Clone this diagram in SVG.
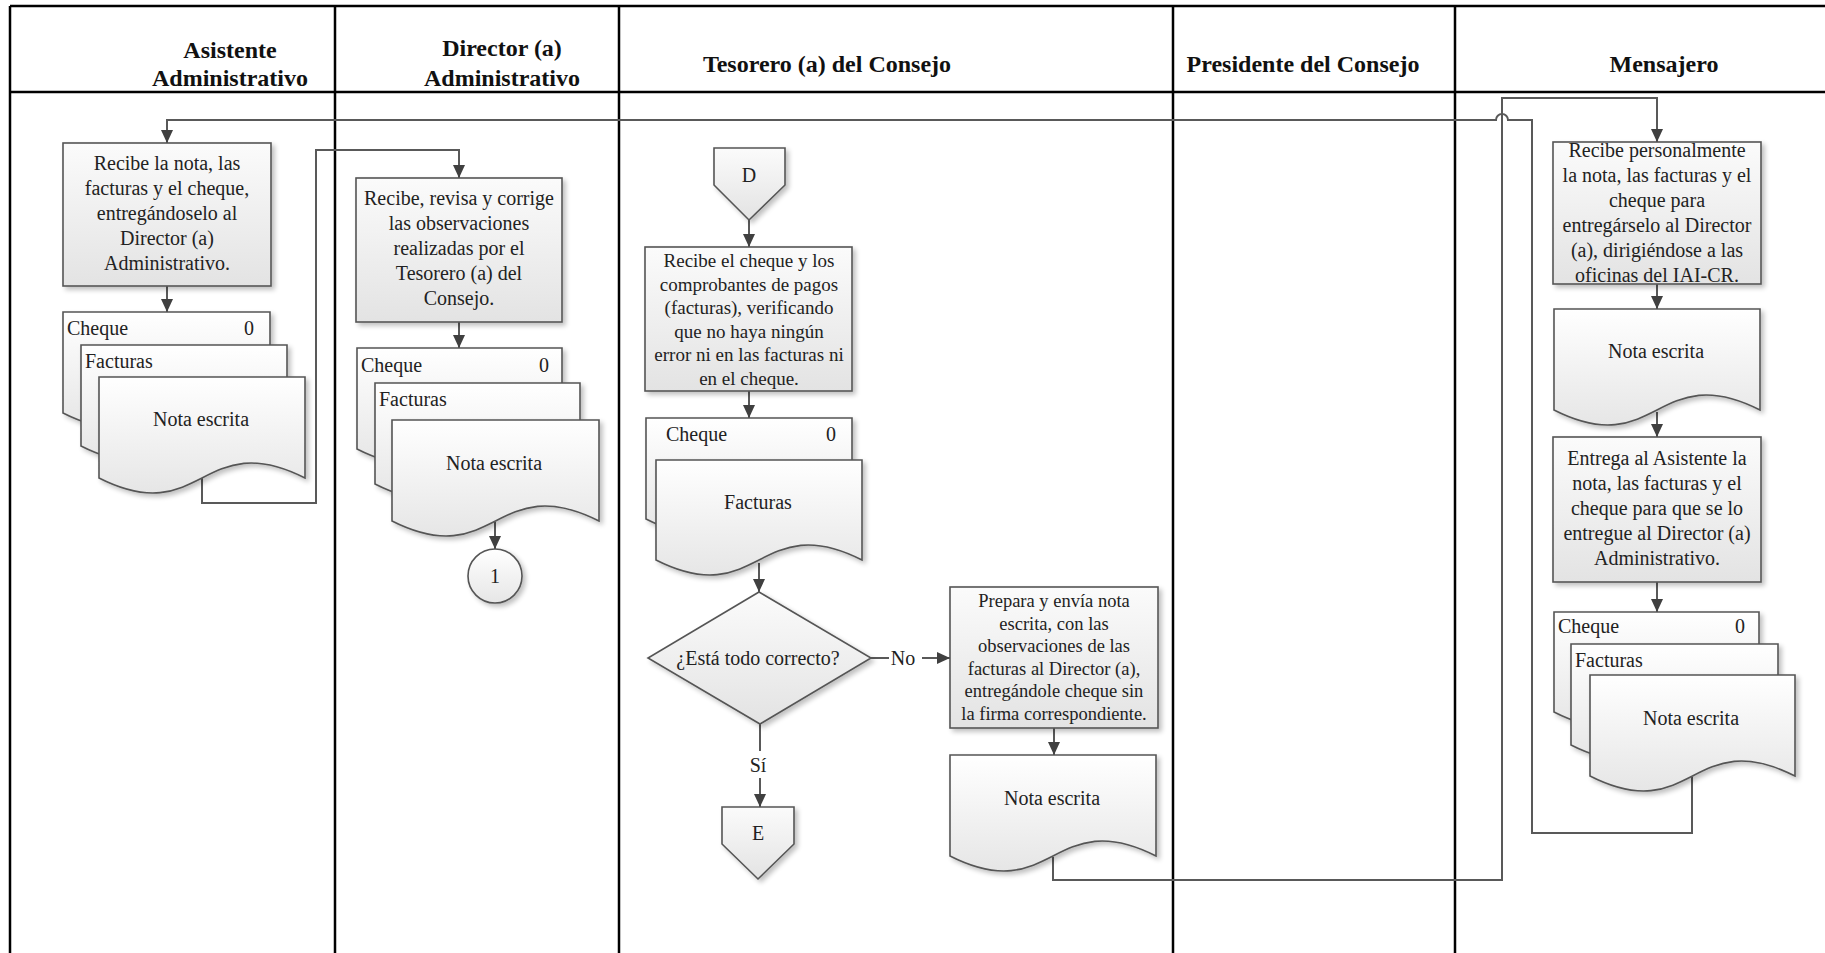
<svg xmlns="http://www.w3.org/2000/svg" width="1825" height="953" viewBox="0 0 1825 953">
  <defs>
    <style>
      .lane { stroke: #000; stroke-width: 2.5; fill: none; }
      .box { fill: url(#gBox); stroke: #555; stroke-width: 1.6; filter: url(#shadow); }
      .doc { fill: url(#gDoc); stroke: #555; stroke-width: 1.6; filter: url(#shadow); }
      .conn { fill: none; stroke: #595959; stroke-width: 2; }
      .arrow { marker-end: url(#arrowHead); }
      text { font-family: "Liberation Serif", "Times New Roman", serif; fill: #222; }
      .t { font-size: 20px; text-anchor: middle; }
      .ts { font-size: 19px; text-anchor: middle; }
      .tx { font-size: 18.5px; text-anchor: middle; }
      .tl { font-size: 20px; text-anchor: start; }
      .h { font-size: 24px; font-weight: bold; text-anchor: middle; fill: #111; }
    </style>
    <linearGradient id="gBox" x1="0" y1="0" x2="0" y2="1">
      <stop offset="0" stop-color="#fbfbfb"/>
      <stop offset="1" stop-color="#e3e3e3"/>
    </linearGradient>
    <linearGradient id="gDoc" x1="0" y1="0" x2="0" y2="1">
      <stop offset="0" stop-color="#ffffff"/>
      <stop offset="1" stop-color="#e6e6e6"/>
    </linearGradient>
    <filter id="shadow" x="-10%" y="-10%" width="125%" height="125%">
      <feGaussianBlur in="SourceAlpha" stdDeviation="2.5"/>
      <feOffset dx="3" dy="3" result="b"/>
      <feComponentTransfer><feFuncA type="linear" slope="0.25"/></feComponentTransfer>
      <feMerge><feMergeNode/><feMergeNode in="SourceGraphic"/></feMerge>
    </filter>
    <marker id="arrowHead" markerUnits="userSpaceOnUse" markerWidth="13" markerHeight="12" refX="13" refY="6" orient="auto">
      <path d="M0,0 L13,6 L0,12 z" fill="#404040"/>
    </marker>
  </defs>

  <rect width="1825" height="953" fill="#fff"/>

  <!-- swimlane frame -->
  <g id="lanes">
    <line class="lane" x1="10" y1="6" x2="1825" y2="6"/>
    <line class="lane" x1="10" y1="92" x2="1825" y2="92"/>
    <line class="lane" x1="10" y1="6" x2="10" y2="953"/>
    <line class="lane" x1="335" y1="6" x2="335" y2="953"/>
    <line class="lane" x1="619" y1="6" x2="619" y2="953"/>
    <line class="lane" x1="1173" y1="6" x2="1173" y2="953"/>
    <line class="lane" x1="1455" y1="6" x2="1455" y2="953"/>
    <text class="h" x="230" y="58">Asistente</text>
    <text class="h" x="230" y="86">Administrativo</text>
    <text class="h" x="502" y="56">Director (a)</text>
    <text class="h" x="502" y="86">Administrativo</text>
    <text class="h" x="827" y="72">Tesorero (a) del Consejo</text>
    <text class="h" x="1303" y="72">Presidente del Consejo</text>
    <text class="h" x="1664" y="72">Mensajero</text>
  </g>

  <!-- connectors -->
  <g id="connectors">
    <path class="conn arrow" d="M167,286 V312"/>
    <path class="conn arrow" d="M202,478 V503 H316 V150 H459 V178"/>
    <path class="conn arrow" d="M459,322 V348"/>
    <path class="conn arrow" d="M495,522 V549"/>
    <path class="conn arrow" d="M749,220 V247"/>
    <path class="conn arrow" d="M749,391 V418"/>
    <path class="conn arrow" d="M759,563 V592"/>
    <path class="conn" d="M871,658 H889"/>
    <path class="conn arrow" d="M922,658 H950"/>
    <path class="conn" d="M760,724 V751"/>
    <path class="conn arrow" d="M760,778 V807"/>
    <path class="conn arrow" d="M1054,728 V755"/>
    <path class="conn arrow" d="M1053,857 V880 H1502 V98 H1657 V142"/>
    <path class="conn arrow" d="M1657,284 V309"/>
    <path class="conn arrow" d="M1657,412 V437"/>
    <path class="conn arrow" d="M1657,582 V612"/>
    <path class="conn arrow" d="M1692,777 V833 H1532 V120 H1508 A6,6 0 0 0 1496,120 H167 V143"/>
    <text class="t" x="903" y="665">No</text>
    <text class="t" x="758" y="772">Sí</text>
  </g>

  <!-- Asistente Administrativo -->
  <g id="asistente-recibe">
    <rect class="box" x="63" y="143" width="208" height="143"/>
    <text class="t" x="167" y="170">Recibe la nota, las</text>
    <text class="t" x="167" y="195">facturas y el cheque,</text>
    <text class="t" x="167" y="220">entregándoselo al</text>
    <text class="t" x="167" y="245">Director (a)</text>
    <text class="t" x="167" y="270">Administrativo.</text>
  </g>
  <g id="asistente-documentos">
    <path class="doc" d="M63,312 H270 V413 C166.5,361 166.5,465 63,413 Z"/>
    <text class="tl" x="67" y="335">Cheque</text>
    <text class="t" x="249" y="335">0</text>
    <path class="doc" d="M81,345 H287 V446 C184,394 184,498 81,446 Z"/>
    <text class="tl" x="85" y="368">Facturas</text>
    <path class="doc" d="M99,377 H305 V478 C202,426 202,530 99,478 Z"/>
    <text class="t" x="201" y="426">Nota escrita</text>
  </g>

  <!-- Director (a) Administrativo -->
  <g id="director-revisa">
    <rect class="box" x="356" y="178" width="206" height="144"/>
    <text class="t" x="459" y="205">Recibe, revisa y corrige</text>
    <text class="t" x="459" y="230">las observaciones</text>
    <text class="t" x="459" y="255">realizadas por el</text>
    <text class="t" x="459" y="280">Tesorero (a) del</text>
    <text class="t" x="459" y="305">Consejo.</text>
  </g>
  <g id="director-documentos">
    <path class="doc" d="M357,348 H562 V449 C459.5,397 459.5,501 357,449 Z"/>
    <text class="tl" x="361" y="372">Cheque</text>
    <text class="t" x="544" y="372">0</text>
    <path class="doc" d="M375,383 H580 V484 C477.5,432 477.5,536 375,484 Z"/>
    <text class="tl" x="379" y="406">Facturas</text>
    <path class="doc" d="M392,420 H599 V521 C495.5,469 495.5,573 392,521 Z"/>
    <text class="t" x="494" y="470">Nota escrita</text>
  </g>
  <g id="conector-1">
    <circle cx="495" cy="576" r="27" fill="url(#gDoc)" stroke="#555" stroke-width="1.6" filter="url(#shadow)"/>
    <text class="t" x="495" y="583">1</text>
  </g>

  <!-- Tesorero (a) del Consejo -->
  <g id="conector-D">
    <path class="box" d="M714,148 H785 V185 L749,220 L714,185 Z"/>
    <text class="t" x="749" y="182">D</text>
  </g>
  <g id="tesorero-verifica">
    <rect class="box" x="645" y="247" width="207" height="144"/>
    <text class="ts" x="749" y="267">Recibe el cheque y los</text>
    <text class="ts" x="749" y="290.5">comprobantes de pagos</text>
    <text class="ts" x="749" y="314">(facturas), verificando</text>
    <text class="ts" x="749" y="337.5">que no haya ningún</text>
    <text class="ts" x="749" y="361">error ni en las facturas ni</text>
    <text class="ts" x="749" y="384.5">en el cheque.</text>
  </g>
  <g id="tesorero-documentos">
    <path class="doc" d="M646,418 H852 V519 C749,467 749,571 646,519 Z"/>
    <text class="tl" x="666" y="441">Cheque</text>
    <text class="t" x="831" y="441">0</text>
    <path class="doc" d="M656,460 H862 V560 C759,508 759,612 656,560 Z"/>
    <text class="t" x="758" y="509">Facturas</text>
  </g>
  <g id="decision-correcto">
    <path class="box" d="M759,592 L871,658 L760,724 L648,658 Z"/>
    <text class="t" x="758" y="665">¿Está todo correcto?</text>
  </g>
  <g id="conector-E">
    <path class="box" d="M722,807 H794 V844 L758,879 L722,844 Z"/>
    <text class="t" x="758" y="840">E</text>
  </g>
  <g id="tesorero-prepara">
    <rect class="box" x="950" y="587" width="208" height="141"/>
    <text class="tx" x="1054" y="607">Prepara y envía nota</text>
    <text class="tx" x="1054" y="629.5">escrita, con las</text>
    <text class="tx" x="1054" y="652">observaciones de las</text>
    <text class="tx" x="1054" y="674.5">facturas al Director (a),</text>
    <text class="tx" x="1054" y="697">entregándole cheque sin</text>
    <text class="tx" x="1054" y="719.5">la firma correspondiente.</text>
  </g>
  <g id="tesorero-nota">
    <path class="doc" d="M950,755 H1156 V856 C1053,804 1053,908 950,856 Z"/>
    <text class="t" x="1052" y="805">Nota escrita</text>
  </g>

  <!-- Mensajero -->
  <g id="mensajero-recibe">
    <rect class="box" x="1553" y="142" width="208" height="142"/>
    <text class="t" x="1657" y="157">Recibe personalmente</text>
    <text class="t" x="1657" y="182">la nota, las facturas y el</text>
    <text class="t" x="1657" y="207">cheque para</text>
    <text class="t" x="1657" y="232">entregárselo al Director</text>
    <text class="t" x="1657" y="257">(a), dirigiéndose a las</text>
    <text class="t" x="1657" y="282">oficinas del IAI-CR.</text>
  </g>
  <g id="mensajero-nota">
    <path class="doc" d="M1554,309 H1760 V410 C1657,358 1657,462 1554,410 Z"/>
    <text class="t" x="1656" y="358">Nota escrita</text>
  </g>
  <g id="mensajero-entrega">
    <rect class="box" x="1553" y="437" width="208" height="145"/>
    <text class="t" x="1657" y="465">Entrega al Asistente la</text>
    <text class="t" x="1657" y="490">nota, las facturas y el</text>
    <text class="t" x="1657" y="515">cheque para que se lo</text>
    <text class="t" x="1657" y="540">entregue al Director (a)</text>
    <text class="t" x="1657" y="565">Administrativo.</text>
  </g>
  <g id="mensajero-documentos">
    <path class="doc" d="M1554,612 H1759 V712 C1656.5,660 1656.5,764 1554,712 Z"/>
    <text class="tl" x="1558" y="633">Cheque</text>
    <text class="t" x="1740" y="633">0</text>
    <path class="doc" d="M1571,644 H1778 V745 C1674.5,693 1674.5,797 1571,745 Z"/>
    <text class="tl" x="1575" y="667">Facturas</text>
    <path class="doc" d="M1590,675 H1795 V776 C1692.5,724 1692.5,828 1590,776 Z"/>
    <text class="t" x="1691" y="725">Nota escrita</text>
  </g>
</svg>
